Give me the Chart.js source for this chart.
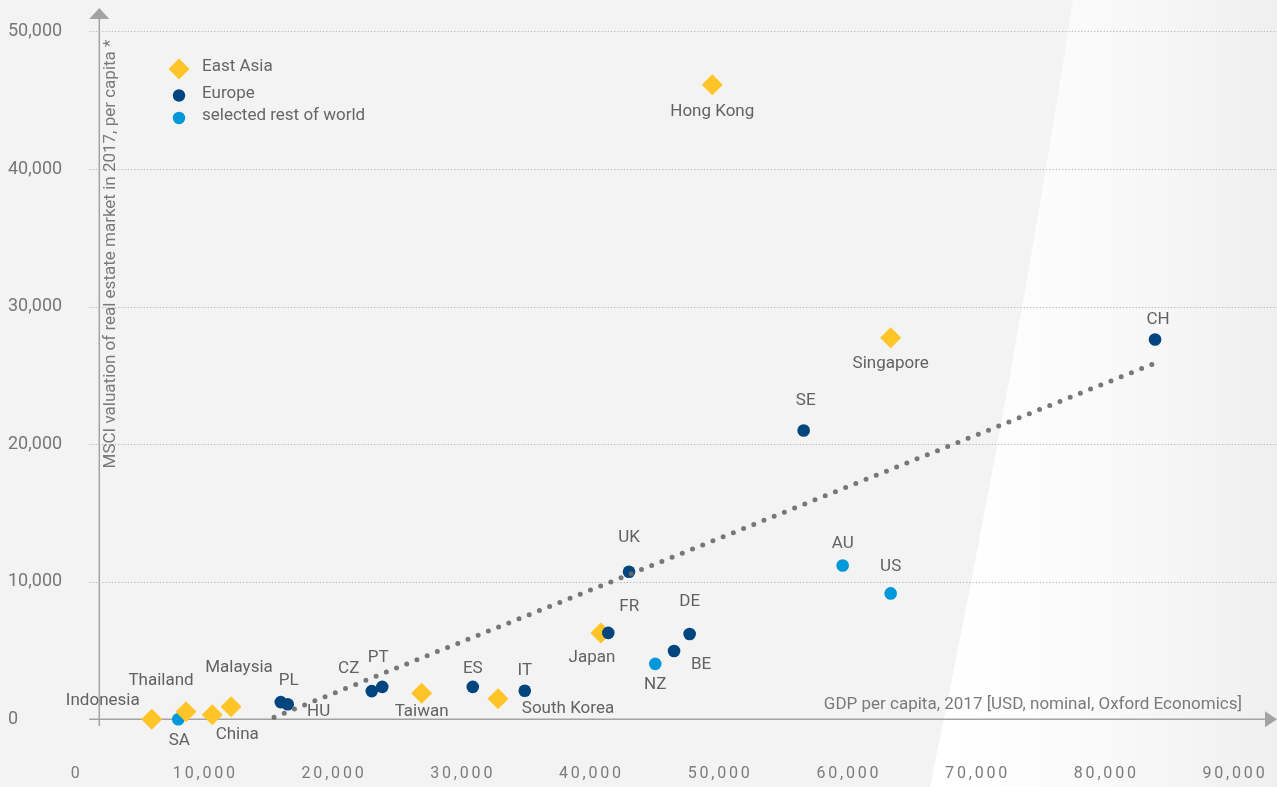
<!DOCTYPE html>
<html><head><meta charset="utf-8">
<script src="https://cdn.jsdelivr.net/npm/chart.js@4.4.1/dist/chart.umd.min.js"></script>
<style>html,body{margin:0;padding:0;background:#f3f3f3;overflow:hidden}#wrap{width:1277px;height:787px;position:relative}</style>
</head><body><div id="wrap"><canvas id="c"></canvas></div>
<script>
// ---- data ----
const eastAsiaNames = ['Hong Kong','Singapore','Japan','South Korea','Taiwan','Malaysia','China','Thailand','Indonesia'];
const eastAsiaGdp   = [49390, 63250, 40740, 32740, 26810, 12000, 10540, 8500, 5840];
const eastAsiaRe    = [46130, 27730, 6280, 1490, 1890, 910, 330, 550, 0];

const europeNames = ['CH','SE','UK','FR','DE','BE','IT','ES','PT','CZ','PL','HU'];
const europeGdp   = [83790, 56490, 42920, 41310, 47630, 46420, 34820, 30780, 23750, 22930, 15860, 16400];
const europeRe    = [27610, 20990, 10730, 6280, 6200, 4970, 2070, 2360, 2360, 2050, 1250, 1090];

const restNames = ['AU','US','NZ','SA'];
const restGdp   = [59520, 63250, 44960, 7900];
const restRe    = [11180, 9150, 4030, 0];

const trendGdp = [15340, 83860];
const trendRe  = [150, 25910];

const xTickValues = [0, 10000, 20000, 30000, 40000, 50000, 60000, 70000, 80000, 90000];
const yTickValues = [0, 10000, 20000, 30000, 40000, 50000];

const seriesLabels = ['East Asia', 'Europe', 'selected rest of world'];
const yTitle = 'MSCI valuation of real estate market in 2017, per capita *';
const xTitle = 'GDP per capita, 2017 [USD, nominal, Oxford Economics]';

// ---- label placement (pixel offsets from the mark) ----
const labelOffsets = {
  'Hong Kong':[0,27], 'Singapore':[0,26], 'Japan':[-9,25], 'South Korea':[70,10], 'Taiwan':[0,18],
  'Malaysia':[8,-39], 'China':[25,20], 'Thailand':[-25,-31], 'Indonesia':[-49,-19],
  'CH':[3,-20], 'SE':[2,-30], 'UK':[0,-34], 'FR':[21,-26], 'DE':[0,-32], 'BE':[27,14],
  'IT':[0,-20], 'ES':[0,-18], 'PT':[-4,-29], 'CZ':[-23,-22], 'PL':[8,-21], 'HU':[31,7],
  'AU':[0,-22], 'US':[0,-27], 'NZ':[0,21], 'SA':[1,21]
};

const FONT = 'Roboto, "Noto Sans", "DejaVu Sans", sans-serif';
const COL_EA = '#FFC428', COL_EU = '#00457E', COL_RW = '#0098D8';

function pts(xs, ys){ return xs.map((x,i)=>({x:x, y:ys[i]})); }

const bgPlugin = {
  id:'bg',
  beforeDraw(chart){
    const {ctx, width, height} = chart;
    ctx.save();
    ctx.fillStyle = '#f3f3f3';
    ctx.fillRect(0,0,width,height);
    const g = ctx.createLinearGradient(955, 0, 1300, 0);
    g.addColorStop(0, '#ffffff');
    g.addColorStop(0.4, '#fafafa');
    g.addColorStop(1, '#eeeeee');
    ctx.beginPath();
    ctx.moveTo(1073, 0);
    ctx.quadraticCurveTo(1012, 392, 930, height);
    ctx.lineTo(width, height);
    ctx.lineTo(width, 0);
    ctx.closePath();
    ctx.fillStyle = g;
    ctx.fill();
    ctx.restore();
    ctx.letterSpacing = '2.8px'; // for the x tick labels
  },
  beforeDatasetsDraw(chart){
    const {ctx, chartArea} = chart;
    ctx.letterSpacing = '0px';
    const ys = chart.scales.y;
    const axisX = chartArea.left + 22.7;
    const axisY = ys.getPixelForValue(0);
    ctx.save();
    // dotted grid lines
    ctx.strokeStyle = '#b4b4b4';
    ctx.lineWidth = 1;
    ctx.setLineDash([1.2, 2]);
    ys.ticks.forEach(t => {
      if (t.value === 0) return;
      const py = Math.round(ys.getPixelForValue(t.value)) + 0.5;
      ctx.beginPath(); ctx.moveTo(axisX - 10, py); ctx.lineTo(chart.width, py); ctx.stroke();
    });
    ctx.setLineDash([]);
    // axes
    ctx.strokeStyle = '#a3a3a3';
    ctx.fillStyle = '#a3a3a3';
    ctx.lineWidth = 1.5;
    ctx.beginPath(); ctx.moveTo(axisX, 726); ctx.lineTo(axisX, 18); ctx.stroke();
    ctx.beginPath(); ctx.moveTo(axisX, 8); ctx.lineTo(axisX + 10, 19); ctx.lineTo(axisX - 10, 19); ctx.closePath(); ctx.fill();
    ctx.beginPath(); ctx.moveTo(axisX - 10, axisY); ctx.lineTo(1266, axisY); ctx.stroke();
    ctx.beginPath(); ctx.moveTo(1277, axisY); ctx.lineTo(1265, axisY - 8); ctx.lineTo(1265, axisY + 8); ctx.closePath(); ctx.fill();
    ctx.restore();
  },
  afterDraw(chart){
    const {ctx, chartArea} = chart;
    ctx.save();
    ctx.letterSpacing = '0px';
    // point labels
    ctx.font = '17px ' + FONT;
    ctx.fillStyle = '#626262';
    ctx.textAlign = 'center';
    ctx.textBaseline = 'middle';
    const nameLists = [eastAsiaNames, europeNames, restNames];
    nameLists.forEach((names, di) => {
      const meta = chart.getDatasetMeta(di);
      names.forEach((n, i) => {
        const el = meta.data[i];
        const off = labelOffsets[n] || [0, -20];
        ctx.fillText(n, el.x + off[0], el.y + off[1]);
      });
    });
    // axis titles
    ctx.fillStyle = '#7a7a7a';
    ctx.font = '17px ' + FONT;
    ctx.textAlign = 'right';
    ctx.fillText(xTitle, 1242, 705);
    ctx.save();
    ctx.translate(chartArea.left + 34, 254);
    ctx.rotate(-Math.PI/2);
    ctx.textAlign = 'center';
    ctx.fillText(yTitle, 0, 0);
    ctx.restore();
    // legend
    const ly = [69, 95.5, 118];
    const lx = 179;
    ctx.textAlign = 'left';
    chart.data.datasets.slice(0,3).forEach((ds, i) => {
      ctx.fillStyle = ds.backgroundColor;
      ctx.beginPath();
      if (ds.pointStyle === 'rectRot') {
        const r = 10.5;
        ctx.moveTo(lx, ly[i]-r); ctx.lineTo(lx+r, ly[i]); ctx.lineTo(lx, ly[i]+r); ctx.lineTo(lx-r, ly[i]);
        ctx.closePath();
      } else {
        ctx.arc(lx, ly[i], 6.2, 0, Math.PI*2);
      }
      ctx.fill();
      ctx.fillStyle = '#666';
      ctx.font = '17px ' + FONT;
      ctx.fillText(ds.label, 202, ly[i] - (i === 0 ? 2.5 : 2));
    });
    ctx.restore();
  }
};

new Chart(document.getElementById('c'), {
  type: 'scatter',
  data: {
    datasets: [
      { label: seriesLabels[0], data: pts(eastAsiaGdp, eastAsiaRe), pointStyle: 'rectRot', pointRadius: 10.5,
        backgroundColor: COL_EA, borderWidth: 0, order: 1, clip: false },
      { label: seriesLabels[1], data: pts(europeGdp, europeRe), pointStyle: 'circle', pointRadius: 6.3,
        backgroundColor: COL_EU, borderWidth: 0, order: 0, clip: false },
      { label: seriesLabels[2], data: pts(restGdp, restRe), pointStyle: 'circle', pointRadius: 6.3,
        backgroundColor: COL_RW, borderWidth: 0, order: 2, clip: false },
      { label: 'trend', type: 'line', data: pts(trendGdp, trendRe), showLine: true, fill: false,
        borderColor: 'rgba(105,105,105,0.9)', borderWidth: 5, borderDash: [0, 11], borderCapStyle: 'round',
        pointRadius: 0, order: -1, clip: false }
    ]
  },
  options: {
    responsive: true, maintainAspectRatio: false, animation: false,
    layout: { padding: { left: 8, right: 4, top: 8, bottom: 0 } },
    plugins: { legend: { display: false }, tooltip: { enabled: false } },
    scales: {
      x: {
        type: 'linear', min: 0, max: 92450,
        afterBuildTicks: s => { s.ticks = xTickValues.map(v => ({ value: v })); },
        afterFit: s => { s.height = 787 - 719.3; },
        grid: { display: true, drawOnChartArea: false, drawTicks: true, tickLength: 45, color: 'rgba(0,0,0,0)' },
        border: { display: false },
        ticks: { padding: 0, color: '#7b7b7b', font: { family: FONT, size: 16 }, maxRotation: 0, autoSkip: false }
      },
      y: {
        type: 'linear', min: 0, max: 51500,
        afterBuildTicks: s => { s.ticks = yTickValues.map(v => ({ value: v })); },
        afterFit: s => { s.width = 68.6; },
        grid: { display: false }, border: { display: false },
        ticks: { crossAlign: 'far', color: '#777', font: { family: FONT, size: 18 }, z: 1, padding: 0 }
      }
    }
  },
  plugins: [bgPlugin]
});
</script>
</body></html>
